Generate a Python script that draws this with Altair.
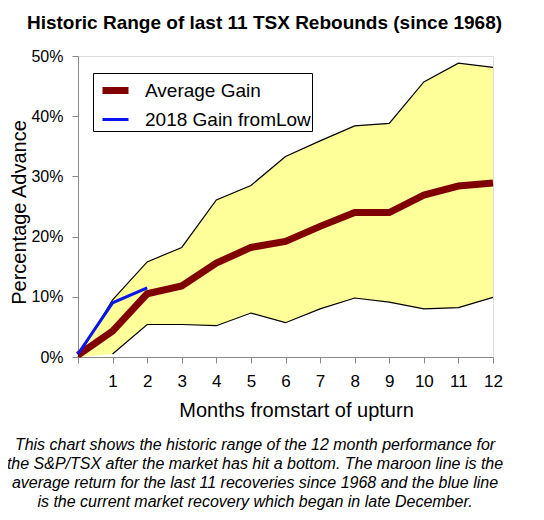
import altair as alt
import pandas as pd

# ---- data ----
months = list(range(13))
upper = [0, 9.5, 15.8, 18.2, 26.1, 28.5, 33.3, 35.9, 38.4, 38.8, 45.7, 48.8, 48.1]
lower = [0, 0.5, 5.4, 5.4, 5.2, 7.3, 5.7, 8.0, 9.8, 9.1, 8.0, 8.2, 9.9]
average = [0.3, 4.3, 10.5, 11.8, 15.6, 18.2, 19.2, 21.7, 24.0, 24.0, 26.9, 28.4, 28.9]
gain_months = [0, 1, 2]
gain_2018 = [0.5, 9.0, 11.5]

series_names = ["Average Gain", "2018 Gain fromLow"]
series_colors = ["#800000", "#0a14f0"]
series_widths = [7, 3]

title_text = "Historic Range of last 11 TSX Rebounds (since 1968)"
x_title = "Months fromstart of upturn"
y_title = "Percentage  Advance"
caption_lines = [
    "This chart shows the historic range of the 12 month performance for",
    "the S&P/TSX after the market has hit a bottom. The maroon line is the",
    "average return for the last 11 recoveries since 1968 and the blue line",
    "is the current market recovery which began in late December.",
]

FONT = "Liberation Sans"

band = pd.DataFrame({"month": months, "upper": upper, "lower": lower})
lower_edge = band[band["month"] >= 1]
lines = pd.concat([
    pd.DataFrame({"month": months, "value": average, "series": series_names[0]}),
    pd.DataFrame({"month": gain_months, "value": gain_2018, "series": series_names[1]}),
])
caption = pd.DataFrame({"text": ["\n".join(caption_lines)]})

x_scale = alt.Scale(domain=[0, 12], nice=False)
y_scale = alt.Scale(domain=[0, 50], nice=False)

x_axis = alt.Axis(
    values=months, labelExpr="datum.value == 0 ? '' : datum.label",
    labelOverlap=False, labelFlush=False, tickSize=6, labelPadding=10,
    labelFontSize=17, title=x_title, titleFontSize=20,
    titleFontWeight="normal", titleX=218, titlePadding=11, grid=False,
)
y_axis = alt.Axis(
    values=[0, 10, 20, 30, 40, 50], labelExpr="datum.value + '%'",
    labelFlush=False, tickSize=6, labelPadding=9, labelFontSize=16,
    title=y_title, titleFontSize=20, titleFontWeight="normal",
    titlePadding=1, titleY=156, grid=False,
)


def X():
    return alt.X("month:Q", scale=x_scale, axis=x_axis)


def Yf(field):
    return alt.Y(field, scale=y_scale, axis=y_axis)


area = alt.Chart(band).mark_area(color="#ffff99", opacity=1).encode(
    x=X(), y=Yf("upper:Q"), y2="lower:Q"
)
upper_line = alt.Chart(band).mark_line(color="black", strokeWidth=1.2).encode(
    x=X(), y=Yf("upper:Q")
)
lower_line = alt.Chart(lower_edge).mark_line(color="black", strokeWidth=1.2).encode(
    x=X(), y=Yf("lower:Q")
)

color_enc = alt.Color(
    "series:N",
    scale=alt.Scale(domain=series_names, range=series_colors),
    legend=alt.Legend(
        orient="none", legendX=15, legendY=17, title=None,
        strokeColor="black", fillColor="white", padding=1,
        symbolType="stroke", symbolSize=676, symbolOffset=5,
        labelFontSize=19, labelOffset=13, rowPadding=0, labelLimit=400,
        labelFont=FONT, labelColor="black",
        labelExpr="datum.label + '  '",
    ),
)
width_enc = alt.StrokeWidth(
    "series:N",
    scale=alt.Scale(domain=series_names, range=series_widths),
    legend=None,
)

avg_line = alt.Chart(lines).transform_filter(
    alt.datum.series == series_names[0]
).mark_line(strokeCap="butt").encode(
    x=X(), y=Yf("value:Q"), color=color_enc, strokeWidth=width_enc
)
gain_line = alt.Chart(lines).transform_filter(
    alt.datum.series == series_names[1]
).mark_line(strokeCap="butt").encode(
    x=X(), y=Yf("value:Q"), color=color_enc, strokeWidth=width_enc
)

caption_text = alt.Chart(caption).mark_text(
    lineBreak="\n", lineHeight=19, font=FONT, fontStyle="italic",
    fontSize=16, align="center", baseline="top", color="black",
).encode(text="text:N", x=alt.value(177), y=alt.value(381))

chart = alt.layer(area, upper_line, lower_line, avg_line, gain_line, caption_text).properties(
    width=415, height=301,
    title=alt.TitleParams(
        title_text, font=FONT, fontSize=19, fontWeight="bold", color="black",
        anchor="middle", dx=-21, offset=15,
    ),
    autosize=alt.AutoSizeParams(type="none"),
    padding={"left": 70, "top": 48, "right": 40, "bottom": 155},
).configure_view(
    stroke="black", strokeWidth=1.5
).configure_axis(
    labelFont=FONT, titleFont=FONT, labelColor="black", titleColor="black",
    domainColor="black", domainWidth=1.5, tickColor="black", tickWidth=1.5,
    titleFontWeight="normal",
).configure_axisX(
    labelOverlap=False
).configure(background="white")

chart.save("out.html", embed_options={"renderer": "svg", "actions": False})
